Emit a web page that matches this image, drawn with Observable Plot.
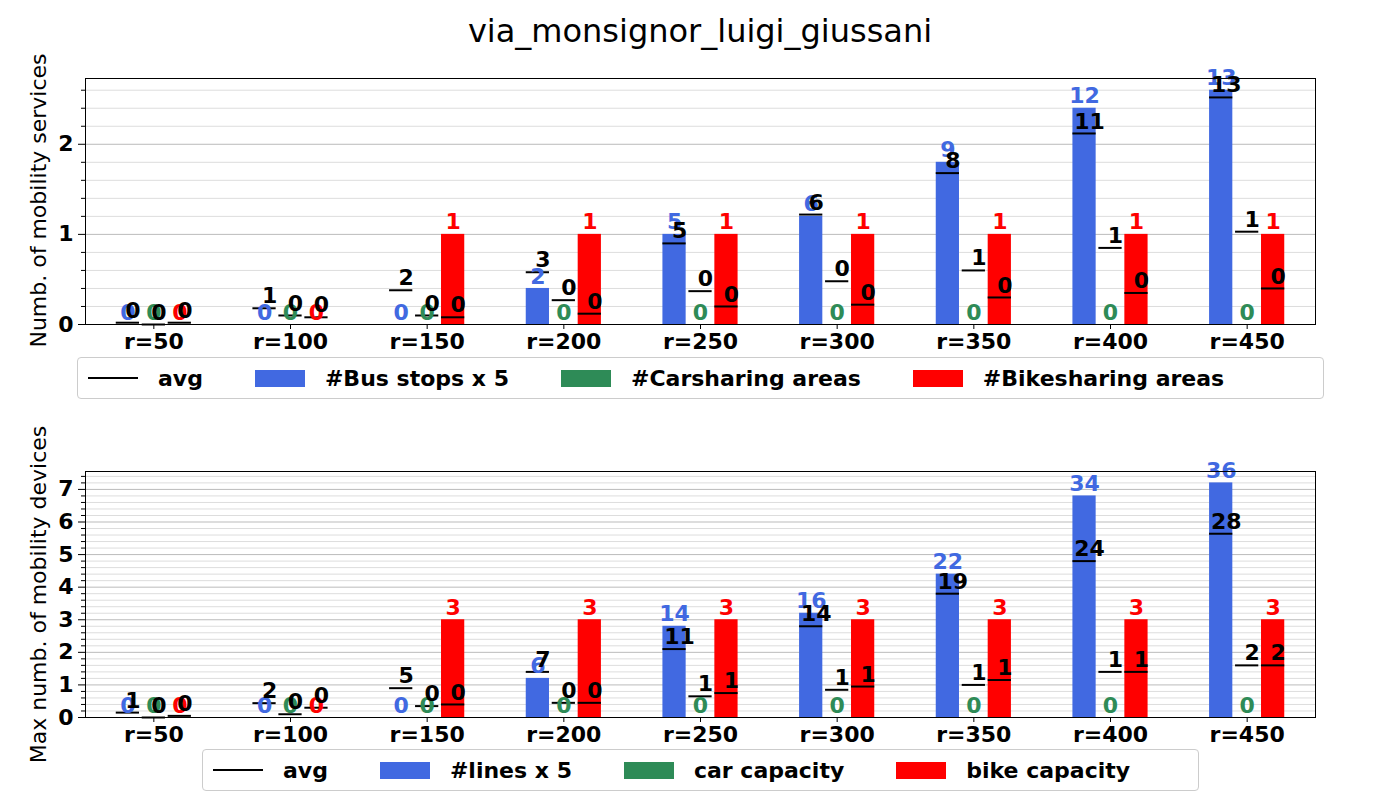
<!DOCTYPE html>
<html><head><meta charset="utf-8">
<script src="https://cdn.jsdelivr.net/npm/d3@7"></script>
<script src="https://cdn.jsdelivr.net/npm/@observablehq/plot@0.6"></script>
<style>
body{margin:0;width:1400px;height:800px;position:relative;background:#fff;font-family:"DejaVu Sans",sans-serif;overflow:hidden}
.abs{position:absolute}
.title{top:12px;left:0;width:1400px;text-align:center;font-size:32px}
.ylab{font-size:22px;transform:rotate(-90deg);transform-origin:center;white-space:nowrap;text-align:center;width:400px}
.legend{border:1px solid #ccc;border-radius:4px;background:#fff;display:flex;align-items:center;font-size:22px;font-weight:bold;height:42px;box-sizing:border-box;padding:0 10px;gap:0}
.legend span.sw{display:inline-block;width:50px;height:17px;margin:0 20px 0 12px}
.legend span.ln{display:inline-block;width:50px;height:2px;background:#000;margin:0 20px 0 0}
.legend .it{display:flex;align-items:center;margin-right:40px}
</style></head><body>
<div class="abs title">via_monsignor_luigi_giussani</div>
<div id="c1" class="abs" style="top:0;left:0"></div>
<div id="c2" class="abs" style="top:400px;left:0"></div>
<div class="abs ylab" style="left:-162px;top:188px">Numb. of mobility services</div>
<div class="abs ylab" style="left:-162px;top:582px">Max numb. of mobility devices</div>
<div id="l1" class="abs legend" style="left:77px;top:357px;width:1247px"></div>
<div id="l2" class="abs legend" style="left:202px;top:749px;width:997px"></div>
<script>
const radii = ["r=50","r=100","r=150","r=200","r=250","r=300","r=350","r=400","r=450"];
const colors = ["#4169e1","#2e8b57","#ff0000"];

// top: services
const busStops = [0,0,0,2,5,6,9,12,13];
const carAreas = [0,0,0,0,0,0,0,0,0];
const bikeAreas = [0,0,1,1,1,1,1,1,1];
const busStopsAvg = [0.1,0.9,1.9,2.9,4.5,6.1,8.4,10.6,12.6];
const carAreasAvg = [0.0,0.1,0.1,0.27,0.37,0.48,0.6,0.85,1.03];
const bikeAreasAvg = [0.02,0.08,0.08,0.12,0.2,0.22,0.3,0.35,0.4];

// bottom: devices
const lines = [0,0,0,6,14,16,22,34,36];
const carCap = [0,0,0,0,0,0,0,0,0];
const bikeCap = [0,0,3,3,3,3,3,3,3];
const linesAvg = [0.75,2.2,4.5,7,10.5,14,19,24,28.2];
const carCapAvg = [0.0,0.1,0.35,0.45,0.65,0.85,1.0,1.4,1.6];
const bikeCapAvg = [0.05,0.3,0.4,0.45,0.75,0.95,1.15,1.4,1.6];

const off = 0.19, hw = 0.085;

function rows(series, avgs, scale) {
  const out = [];
  series.forEach((s, k) => s.forEach((v, i) => {
    const sc = k === 0 ? scale : 1;
    out.push({i, k, v, h: v / sc, a: avgs[k][i] / sc, al: Math.round(avgs[k][i]), cx: i + (k - 1) * off});
  }));
  return out;
}

function chart(data, ymax, majors, marginTop, marginBottom, height) {
  const minors = d3.range(0, ymax, 0.2).filter(v => Math.abs(v - Math.round(v)) > 1e-6);
  return Plot.plot({
    width: 1400, height, marginLeft: 85, marginRight: 85, marginTop, marginBottom,
    style: {fontSize: "22px", fontFamily: "DejaVu Sans, sans-serif", color: "#000"},
    x: {type: "linear", domain: [-0.5, 8.5], axis: null},
    y: {domain: [0, ymax], axis: null},
    marks: [
      Plot.ruleY(minors, {stroke: "#ddd", strokeWidth: 1}),
      Plot.ruleY(majors.filter(d => d > 0), {stroke: "#bbb", strokeWidth: 1}),
      Plot.rectY(data, {x1: d => d.cx - hw, x2: d => d.cx + hw, y1: 0, y2: "h", fill: d => colors[d.k]}),
      Plot.ruleY(data, {y: "a", x1: d => d.cx - hw, x2: d => d.cx + hw, stroke: "#000", strokeWidth: 2}),
      Plot.text(data, {x: "cx", y: "h", text: d => String(d.v), fill: d => colors[d.k], fontWeight: "bold", fontSize: 22, dy: -12}),
      Plot.text(data, {x: "cx", y: "a", text: d => String(d.al), fill: "#000", fontWeight: "bold", fontSize: 22, dx: 5, dy: -12}),
      Plot.frame({stroke: "#000"}),
      Plot.axisY(majors, {tickSize: 7, fontWeight: "bold", fontSize: 22, tickPadding: 5, tickFormat: d3.format("d"), label: null}),
      Plot.ruleY(minors, {x1: -0.5, x2: -0.47, dx: -4, stroke: "#000"}),
      Plot.axisX(d3.range(9), {tickFormat: i => radii[i], fontWeight: "bold", fontSize: 22, tickSize: 5, label: null})
    ]
  });
}

document.getElementById("c1").append(chart(rows([busStops, carAreas, bikeAreas], [busStopsAvg, carAreasAvg, bikeAreasAvg], 5), 2.73, [0,1,2], 78, 36, 360));
document.getElementById("c2").append(chart(rows([lines, carCap, bikeCap], [linesAvg, carCapAvg, bikeCapAvg], 5), 7.55, [0,1,2,3,4,5,6,7], 71, 43, 360));

function legend(el, names) {
  let h = `<div class="it"><span class="ln"></span>avg</div>`;
  names.forEach((n, k) => h += `<div class="it"><span class="sw" style="background:${colors[k]}"></span>${n}</div>`);
  document.getElementById(el).innerHTML = h;
}
legend("l1", ["#Bus stops x 5", "#Carsharing areas", "#Bikesharing areas"]);
legend("l2", ["#lines x 5", "car capacity", "bike capacity"]);
</script>
</body></html>
